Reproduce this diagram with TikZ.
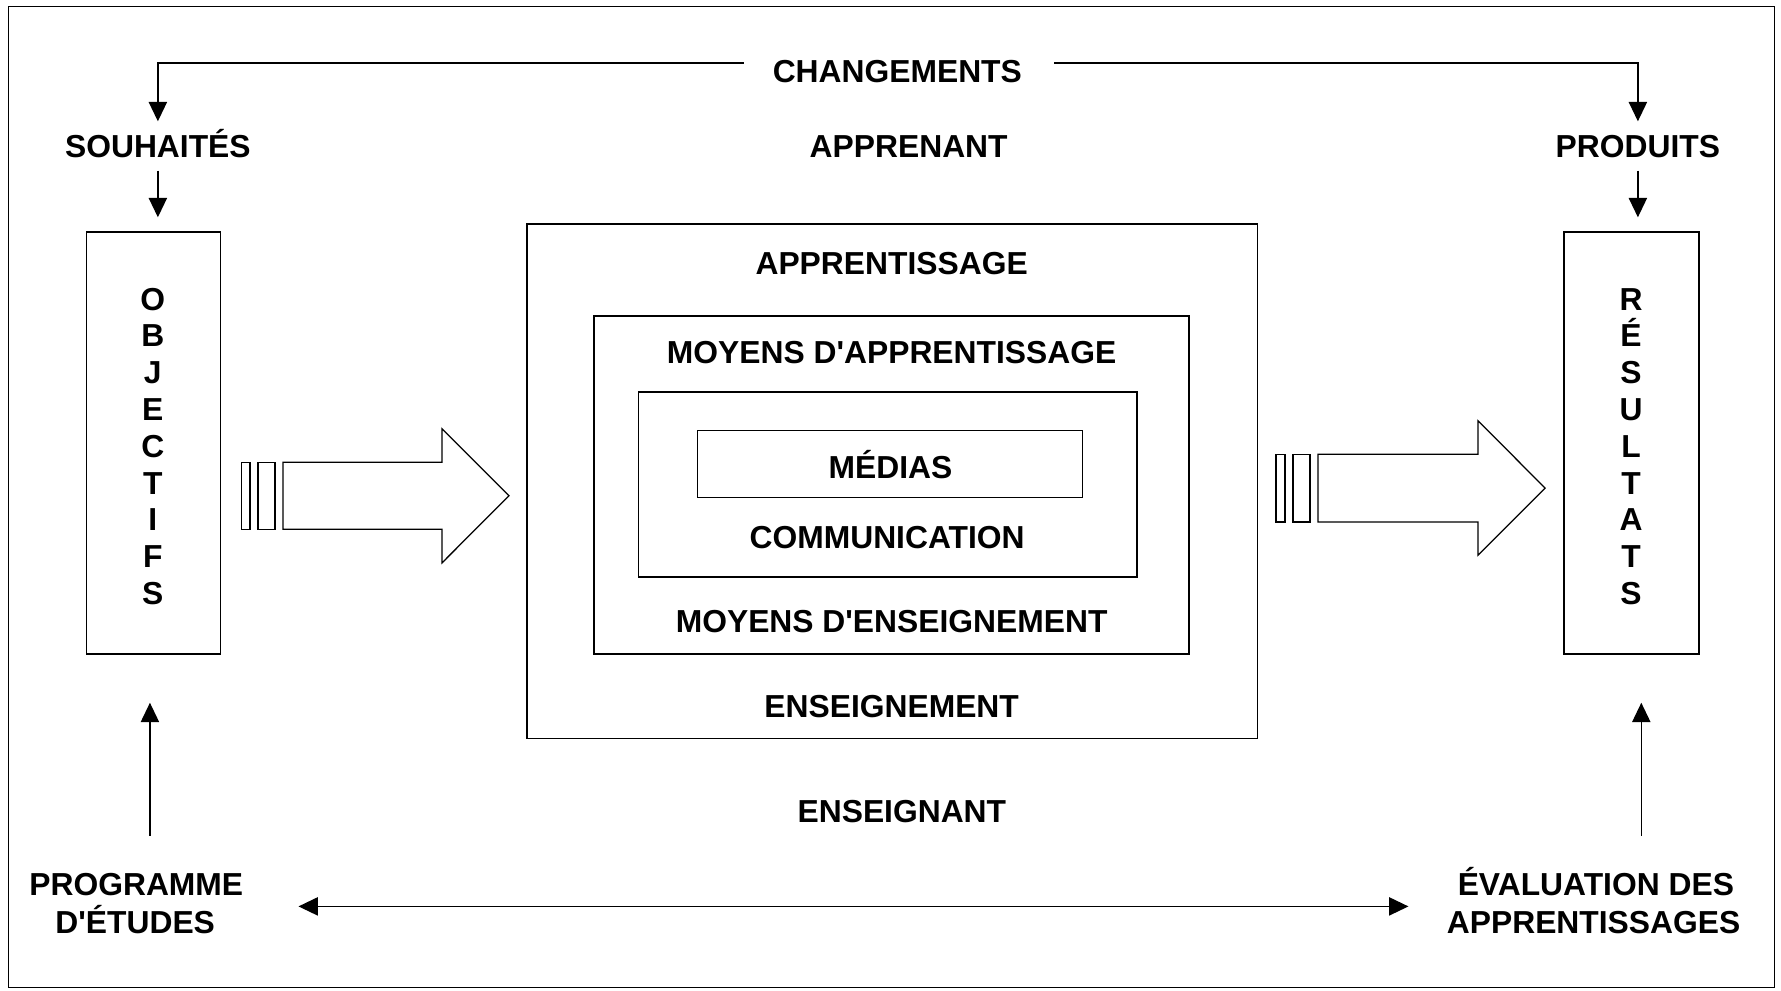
\documentclass[tikz,border=0pt]{standalone}
\usepackage{fontspec}
\newfontfamily\labfont{Liberation Sans}
\usetikzlibrary{arrows.meta}
\begin{document}
\begin{tikzpicture}[x=1pt,y=-1pt,
  txt/.style={inner sep=0pt, text height=20pt, text depth=0pt, font=\labfont\fontsize{28}{33}\selectfont\bfseries},
  box/.style={draw, line width=1.4pt, inner sep=0pt},
  arr/.style={line width=1.3pt, -{Triangle[length=17pt,width=16pt]}},
  darr/.style={line width=1.3pt, {Triangle[length=17pt,width=16pt]}-{Triangle[length=17pt,width=16pt]}},
  blk/.style={draw, line width=1.1pt, line join=miter}]
\useasboundingbox (0,0) rectangle (1568,872);
\draw[line width=1.2pt] (7.5,5.5) rectangle (1562.5,869.5);

% boxes
\node[box, minimum width=118pt, minimum height=372pt] (obj) at (135,390) {};
\node[box, minimum width=119pt, minimum height=372pt] (res) at (1436.5,390) {};
\node[box, minimum width=643pt, minimum height=453pt] (big) at (785.5,423.5) {};
\node[box, minimum width=524pt, minimum height=298pt] (box2) at (785,427) {};
\node[box, minimum width=439pt, minimum height=163pt] (box3) at (781.5,426.5) {};
\node[box, minimum width=339pt, minimum height=59pt] (medbox) at (783.5,408.5) {};

% letters
\foreach \l [count=\i] in {O,B,J,E,C,T,I,F,S}
  \node[txt, name=o\i] at (134.5,{263+32.4*(\i-1)}) {\l};
\foreach \l [count=\i] in {R,É,S,U,L,T,A,T,S}
  \node[txt, name=r\i] at (1436,{263+32.4*(\i-1)}) {\l};

% text labels
\node[txt] (chg) at (790,63) {CHANGEMENTS};
\node[txt] (souh) at (139,128.5) {SOUHAITÉS};
\node[txt] (appr) at (800,128.5) {APPRENANT};
\node[txt] (prod) at (1442,128.5) {PRODUITS};
\node[txt] (apprt) at (785,232) {APPRENTISSAGE};
\node[txt] (mapp) at (785,310) {MOYENS D'APPRENTISSAGE};
\node[txt] (medias) at (784,411) {MÉDIAS};
\node[txt] (comm) at (781,473) {COMMUNICATION};
\node[txt] (mens) at (785,547) {MOYENS D'ENSEIGNEMENT};
\node[txt] (ens) at (785,622) {ENSEIGNEMENT};
\node[txt] (enst) at (794,714) {ENSEIGNANT};
\node[txt] (prog1) at (120,778.5) {PROGRAMME};
\node[txt] (prog2) at (119,812) {D'ÉTUDES};
\node[txt] (eval1) at (1405,778.5) {ÉVALUATION DES};
\node[txt] (eval2) at (1403,812) {APPRENTISSAGES};

% top connectors
\coordinate (cl) at (655,55.5);
\coordinate (cr) at (928,55.5);
\draw[arr, shorten >=11.5pt] (cl) -| (souh.north);
\draw[arr, shorten >=11.5pt] (cr) -| (prod.north);
\draw[arr, shorten <=11.5pt, shorten >=12pt] (souh.south) -- (souh.south |- obj.north);
\draw[arr, shorten <=11.5pt, shorten >=12pt] (prod.south) -- (prod.south |- res.north);

% bottom connectors
\coordinate (pu) at (132,736);
\coordinate (eu) at (1445,736);
\draw[arr, shorten >=42pt] (pu) -- (pu |- obj.south);
\draw[arr, shorten >=42pt] (eu) -- (eu |- res.south);
\coordinate (dl) at (262.8,798);
\coordinate (dr) at (1240,798);
\draw[darr] (dl) -- (dr);

% block arrows
\draw[blk] (212.8,407) rectangle (220.1,466);
\draw[blk] (227.2,407) rectangle (242.1,466);
\draw[blk] (249.2,407) -- (389.2,407) -- (389.2,377.5) -- (448.1,436.5) -- (389.2,495.5) -- (389.2,466) -- (249.2,466) -- cycle;
\draw[blk] (1123.4,400) rectangle (1131.3,459.5);
\draw[blk] (1138.4,400) rectangle (1153.4,459.5);
\draw[blk] (1160.4,400) -- (1301.3,400) -- (1301.3,370.5) -- (1360.3,429.7) -- (1301.3,488.8) -- (1301.3,459.5) -- (1160.4,459.5) -- cycle;
\end{tikzpicture}
\end{document}
